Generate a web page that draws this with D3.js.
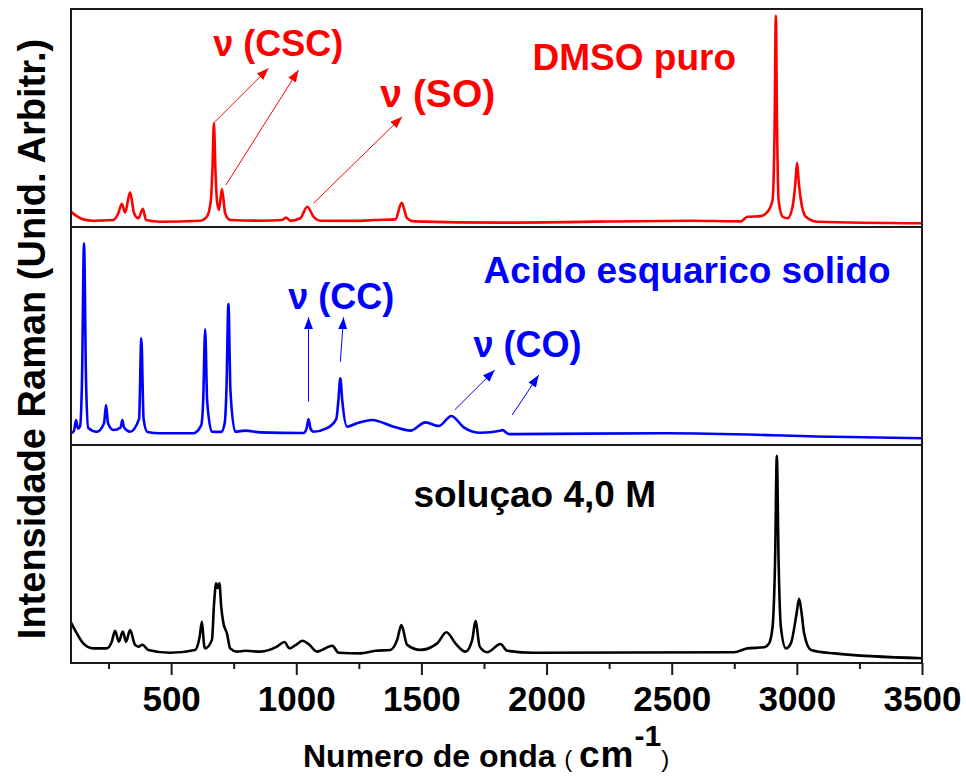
<!DOCTYPE html>
<html>
<head>
<meta charset="utf-8">
<script src="https://cdn.jsdelivr.net/npm/d3@7"></script>
<style>
  body { margin: 0; background: #fff; }
  svg { display: block; }
  text { font-family: "Liberation Sans", Arial, Helvetica, sans-serif; font-weight: bold; }
</style>
</head>
<body>
<svg id="chart" width="966" height="776"></svg>
<script>
// Raman spectra: [wavenumber (cm-1), intensity (arb. units, 0-100 per panel)]
const dmsoSpectrum = [
  [100,7.0],[123,5.0],[149,3.5],[189,2.9],[269,3.2],[289,6.3],[303,10.6],[316,6.6],[336,15.9],
  [352,6.3],[369,4.0],[387,8.3],[400,3.2],[456,2.4],[616,2.9],[643,4.7],[659,12.4],[665,26],
  [671,47.6],[677,26],[683,12.4],[691,7.8],[703,17.4],[716,6.3],[736,3.2],[856,2.9],[943,3.2],
  [959,4.3],[976,2.9],[1016,4.0],[1044,9.3],[1069,4.7],[1096,2.9],[1256,2.8],[1309,3.2],
  [1396,3.5],[1421,11.1],[1443,4.0],[1469,2.6],[1816,2.0],[2576,2.9],[2776,2.6],[2803,4.7],
  [2856,5.0],[2883,7.0],[2903,12.4],[2911,45],[2916,96.9],[2921,45],[2927,12.4],[2943,4.7],
  [2963,4.0],[2983,9.3],[2994,20],[3001,29.5],[3008,20],[3016,12.4],[3036,4.7],[3083,2.4],
  [3500,1.7]
];

const squaricSolidSpectrum = [
  [100,5.4],[112,6.5],[120,11.5],[128,7.5],[136,8.5],[144,30],[152,92.5],[160,30],[169,7.8],
  [203,6.1],[232,10],[240,18.3],[248,10],[269,6.9],[298,8],[305,11.5],[312,8],[336,6.1],
  [372,12],[381,48.9],[390,12],[405,6.0],[456,5.4],[589,5.4],[620,9],[628,20],[636,53.1],
  [644,20],[663,6.1],[700,6.0],[714,10],[721,25],[729,64.7],[737,25],[756,6.1],[796,6.6],
  [856,5.8],[1029,5.5],[1041,7.5],[1049,11.9],[1057,7.5],[1069,6.1],[1123,7.7],[1160,12],
  [1168,20],[1176,30.6],[1184,20],[1203,8.4],[1243,10.0],[1303,11.5],[1389,8.4],[1456,6.6],
  [1516,10.4],[1569,8.7],[1620,13.3],[1669,8.1],[1736,5.6],[1815,6.5],[1823,6.9],[1849,5.0],
  [2483,5.4],[3149,3.8],[3500,3.1]
];

const solutionSpectrum = [
  [100,18.5],[123,13.6],[149,9.0],[189,6.7],[243,6.7],[263,9.8],[276,14.8],[291,9.8],[307,14.4],
  [320,9.8],[336,15.1],[356,8.3],[370,7.5],[385,8.4],[409,6.0],[496,4.7],[596,6.0],[614,12],
  [623,18.9],[632,8],[636,6.7],[663,10.6],[672,28],[680,36.6],[686,34.4],[693,36.6],[700,26],
  [709,18.2],[723,13.6],[736,6.7],[763,5.2],[796,5.6],[856,5.2],[923,7.5],[953,9.6],[973,6.7],
  [1003,8.7],[1025,10.2],[1049,8.7],[1083,5.2],[1144,7.9],[1169,4.7],[1256,4.4],[1316,5.6],
  [1376,6.0],[1403,10.6],[1420,17.4],[1443,8.3],[1496,6.0],[1563,9.0],[1600,14.1],[1636,9.0],
  [1676,5.2],[1703,10.6],[1716,19.3],[1733,7.5],[1763,4.9],[1816,8.7],[1843,5.6],[1949,4.7],
  [2749,4.9],[2803,6.7],[2869,7.2],[2889,9.0],[2903,16.7],[2913,47],[2920,95.1],[2927,47],
  [2936,16.7],[2956,6.7],[2976,9.0],[2998,22],[3009,29.4],[3020,22],[3029,13.6],[3056,6.0],
  [3149,4.4],[3500,2.2]
];

const sampleNames = ["DMSO puro", "Acido esquarico solido", "soluçao 4,0 M"];
const sampleColors = ["#ff0000", "#0000ff", "#000000"];
// label anchor (left x in cm-1, baseline intensity)
const sampleLabelPos = [[1944, 72.2], [1748, 74.5], [1468, 71.6]];

const majorTicks = [500, 1000, 1500, 2000, 2500, 3000, 3500];
const minorTicks = [250, 750, 1250, 1750, 2250, 2750, 3250];

// Band assignments: [panel, text, x, baseline intensity, font size]
const bandLabels = [
  [0, "ν (CSC)", 668, 78.4, 36],
  [0, "ν (SO)", 1336, 55.0, 39],
  [1, "ν (CC)", 968, 62.4, 36],
  [1, "ν (CO)", 1708, 40.4, 36]
];
// Arrows: [panel, x0, y0, x1, y1] in (cm-1, intensity)
const bandArrows = [
  [0, 671, 47.8, 889, 72.8],
  [0, 719, 19.3, 1009, 72.0],
  [0, 1069, 10.9, 1423, 50.6],
  [1, 1049, 19.9, 1049, 58.6],
  [1, 1176, 38.2, 1189, 58.6],
  [1, 1633, 16.1, 1793, 34.4],
  [1, 1863, 13.8, 1969, 32.1]
];

const spectra = [dmsoSpectrum, squaricSolidSpectrum, solutionSpectrum];

const svg = d3.select("#chart");
const plotLeft = 71, plotRight = 922, plotTop = 9, panelH = 218;
const plotBottom = plotTop + 3 * panelH;

const x = d3.scaleLinear().domain([100, 3500]).range([plotLeft, plotRight]);
const yScales = spectra.map((_, i) =>
  d3.scaleLinear().domain([0, 100]).range([plotTop + (i + 1) * panelH, plotTop + i * panelH]));

const defs = svg.append("defs");
spectra.forEach((_, i) => {
  defs.append("clipPath").attr("id", "clip" + i)
    .append("rect").attr("x", plotLeft).attr("y", plotTop + i * panelH)
    .attr("width", plotRight - plotLeft).attr("height", panelH);
});
sampleColors.forEach((c, i) => {
  defs.append("marker").attr("id", "arrow" + i)
    .attr("markerUnits", "userSpaceOnUse")
    .attr("markerWidth", 13).attr("markerHeight", 10)
    .attr("refX", 12).attr("refY", 4.5).attr("orient", "auto")
    .append("path").attr("d", "M0,0 L12,4.5 L0,9 Z").attr("fill", c);
});

// spectra
spectra.forEach((data, i) => {
  const y = yScales[i];
  const line = d3.line().x(d => x(d[0])).y(d => y(d[1])).curve(d3.curveMonotoneX);
  svg.append("path").datum(data)
    .attr("clip-path", `url(#clip${i})`)
    .attr("d", line)
    .attr("fill", "none")
    .attr("stroke", sampleColors[i])
    .attr("stroke-width", 2.6)
    .attr("stroke-linejoin", "round");
});

// frames
spectra.forEach((_, i) => {
  svg.append("rect")
    .attr("x", plotLeft).attr("y", plotTop + i * panelH)
    .attr("width", plotRight - plotLeft).attr("height", panelH)
    .attr("fill", "none").attr("stroke", "#1a1a1a").attr("stroke-width", 2);
});

// arrows
bandArrows.forEach(([p, x0, y0, x1, y1]) => {
  const y = yScales[p];
  svg.append("line")
    .attr("x1", x(x0)).attr("y1", y(y0)).attr("x2", x(x1)).attr("y2", y(y1))
    .attr("stroke", sampleColors[p]).attr("stroke-width", 1)
    .attr("marker-end", `url(#arrow${p})`);
});

// band labels
bandLabels.forEach(([p, t, bx, by, fs]) => {
  svg.append("text")
    .attr("x", x(bx)).attr("y", yScales[p](by))
    .attr("font-size", fs).attr("fill", sampleColors[p])
    .text(t);
});

// sample names
sampleNames.forEach((name, i) => {
  svg.append("text")
    .attr("x", x(sampleLabelPos[i][0])).attr("y", yScales[i](sampleLabelPos[i][1]))
    .attr("font-size", 37).attr("fill", sampleColors[i])
    .text(name);
});

// x axis
const gMinor = svg.append("g").attr("transform", `translate(0,${plotBottom})`)
  .call(d3.axisBottom(x).tickValues(minorTicks).tickSize(6).tickFormat(""));
const gMajor = svg.append("g").attr("transform", `translate(0,${plotBottom})`)
  .call(d3.axisBottom(x).tickValues(majorTicks).tickSize(12).tickFormat(d3.format("d")));
[gMinor, gMajor].forEach(g => {
  g.select(".domain").remove();
  g.selectAll(".tick line").attr("stroke", "#1a1a1a").attr("stroke-width", 2);
});
gMajor.selectAll(".tick text")
  .attr("y", 48).attr("dy", 0)
  .attr("font-size", 35).attr("font-family", null).attr("fill", "#000");

// axis titles
const xTitle = svg.append("text").attr("x", 303).attr("y", 767).attr("fill", "#000");
xTitle.append("tspan").attr("font-size", 32).text("Numero de onda ");
xTitle.append("tspan").attr("font-size", 24).attr("font-weight", "normal").text("( ");
xTitle.append("tspan").attr("font-size", 37).attr("letter-spacing", 1).text("cm");
xTitle.append("tspan").attr("font-size", 30).attr("dy", -21).text("-1");
xTitle.append("tspan").attr("font-size", 24).attr("font-weight", "normal").attr("dy", 21).text(")");

svg.append("text")
  .attr("transform", `translate(45,${(plotTop + plotBottom) / 2 + 3}) rotate(-90)`)
  .attr("text-anchor", "middle")
  .attr("font-size", 38).attr("fill", "#000")
  .text("Intensidade Raman (Unid. Arbitr.)");
</script>
</body>
</html>
